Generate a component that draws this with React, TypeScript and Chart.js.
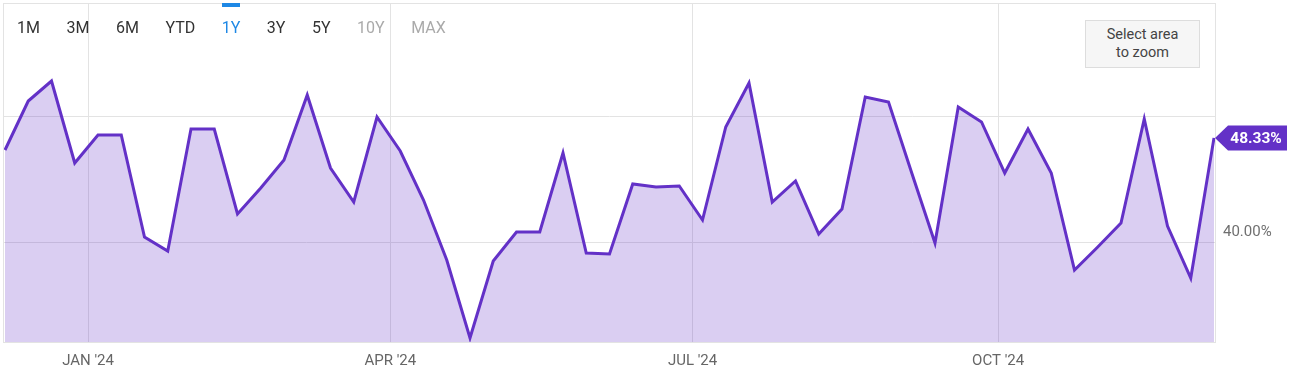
import React, { useEffect, useRef } from 'react';
import { Chart, registerables } from 'chart.js';

Chart.register(...registerables);

// ---- data ----
const dates = [
  '2023-12-07', '2023-12-14', '2023-12-21', '2023-12-28', '2024-01-04', '2024-01-11', '2024-01-18',
  '2024-01-25', '2024-02-01', '2024-02-08', '2024-02-15', '2024-02-22', '2024-02-29', '2024-03-07',
  '2024-03-14', '2024-03-21', '2024-03-28', '2024-04-04', '2024-04-11', '2024-04-18', '2024-04-25',
  '2024-05-02', '2024-05-09', '2024-05-16', '2024-05-23', '2024-05-30', '2024-06-06', '2024-06-13',
  '2024-06-20', '2024-06-27', '2024-07-04', '2024-07-11', '2024-07-18', '2024-07-25', '2024-08-01',
  '2024-08-08', '2024-08-15', '2024-08-22', '2024-08-29', '2024-09-05', '2024-09-12', '2024-09-19',
  '2024-09-26', '2024-10-03', '2024-10-10', '2024-10-17', '2024-10-24', '2024-10-31', '2024-11-07',
  '2024-11-14', '2024-11-21', '2024-11-28', '2024-12-05',
];
const values = [
  47.36, 51.28, 52.88, 46.32, 48.56, 48.56, 40.4, 39.28, 49.04, 49.04, 42.24, 44.32, 46.56, 51.76,
  45.92, 43.2, 50.0, 47.28, 43.36, 38.56, 32.32, 38.48, 40.8, 40.8, 47.12, 39.12, 39.04, 44.64,
  44.4, 44.48, 41.76, 49.2, 52.72, 43.2, 44.88, 40.64, 42.64, 51.6, 51.2, 45.52, 39.92, 50.8,
  49.6, 45.52, 49.04, 45.52, 37.76, 39.6, 41.52, 49.84, 41.28, 37.12, 48.33,
];
const xTickDates = ['2024-01-01', '2024-04-01', '2024-07-01', '2024-10-01'];
const xTickLabels = ["JAN '24", "APR '24", "JUL '24", "OCT '24"];
const yTickValues = [40, 50];
const yTickLabels = ['40.00%', ''];
const rangeButtons = ['1M', '3M', '6M', 'YTD', '1Y', '3Y', '5Y', '10Y', 'MAX'];
const activeRange = '1Y';
const disabledRanges = ['10Y', 'MAX'];
const zoomHint = ['Select area', 'to zoom'];

const toDay = (s: string) => {
  const [y, m, d] = s.split('-').map(Number);
  return Date.UTC(y, m - 1, d) / 86400000;
};

const LINE = '#6331c7';
const FILL = 'rgba(99,49,199,0.24)';

export default function App() {
  const canvasRef = useRef<HTMLCanvasElement | null>(null);

  useEffect(() => {
    document.body.style.margin = '0';
    const canvas = canvasRef.current;
    if (!canvas) return;

    const points = dates.map((d, i) => ({ x: toDay(d), y: values[i] }));
    const xTicks = xTickDates.map(toDay);

    const frame = {
      id: 'frame',
      beforeDatasetsDraw(chart: any) {
        const { ctx, chartArea: a } = chart;
        ctx.save();
        ctx.strokeStyle = '#e3e3e3';
        ctx.lineWidth = 1;
        ctx.strokeRect(a.left - 0.5, a.top - 0.5, a.right - a.left + 1, a.bottom - a.top + 1);
        ctx.restore();
      },
    };

    const lastLabel = {
      id: 'lastLabel',
      afterDraw(chart: any) {
        const { ctx, chartArea: a } = chart;
        const last = values[values.length - 1];
        const y = chart.scales.y.getPixelForValue(last);
        const tip = a.right;
        const base = tip + 13;
        const right = tip + 72;
        const h = 25;
        ctx.save();
        ctx.fillStyle = LINE;
        ctx.beginPath();
        ctx.moveTo(tip, y);
        ctx.lineTo(base, y - h / 2);
        ctx.lineTo(right, y - h / 2);
        ctx.lineTo(right, y + h / 2);
        ctx.lineTo(base, y + h / 2);
        ctx.closePath();
        ctx.fill();
        ctx.fillStyle = '#ffffff';
        ctx.font = 'bold 15.5px Roboto';
        ctx.textAlign = 'center';
        ctx.textBaseline = 'middle';
        ctx.fillText(last.toFixed(2) + '%', tip + 41, y + 1);
        ctx.restore();
      },
    };

    const chart = new Chart(canvas, {
      type: 'line',
      data: {
        datasets: [
          {
            data: points,
            borderColor: LINE,
            backgroundColor: FILL,
            borderWidth: 3,
            fill: 'start',
            tension: 0,
            pointRadius: 0,
            borderJoinStyle: 'miter',
          },
        ],
      },
      options: {
        animation: false,
        responsive: true,
        maintainAspectRatio: false,
        layout: { padding: { left: 4, top: 4, right: 0, bottom: 0 } },
        plugins: { legend: { display: false }, tooltip: { enabled: false } },
        scales: {
          x: {
            type: 'linear',
            min: points[0].x - 0.3,
            max: points[points.length - 1].x + 0.3,
            afterBuildTicks: (scale: any) => {
              scale.ticks = xTicks.map((v) => ({ value: v }));
            },
            afterFit: (scale: any) => {
              scale.height = 44;
              scale.paddingLeft = 0;
              scale.paddingRight = 0;
            },
            grid: { color: '#e3e3e3', drawTicks: false, lineWidth: 1 },
            border: { display: false },
            ticks: {
              autoSkip: false,
              maxRotation: 0,
              padding: 10,
              color: '#666666',
              font: { family: 'Roboto', size: 15 },
              callback: (_v: any, i: number) => xTickLabels[i],
            },
          },
          y: {
            position: 'right',
            min: 32,
            max: 59.04,
            afterBuildTicks: (scale: any) => {
              scale.ticks = yTickValues.map((v) => ({ value: v }));
            },
            afterFit: (scale: any) => {
              scale.width = 77;
              scale.paddingTop = 0;
              scale.paddingBottom = 0;
            },
            grid: { color: '#e3e3e3', drawTicks: false, lineWidth: 1 },
            border: { display: false },
            ticks: {
              padding: 8,
              labelOffset: -10,
              color: '#6f6f6f',
              font: { family: 'Roboto', size: 15 },
              callback: (_v: any, i: number) => yTickLabels[i],
            },
          },
        },
      },
      plugins: [frame, lastLabel],
    } as any);

    return () => chart.destroy();
  }, []);

  return (
    <div style={{ position: 'relative', width: 1292, height: 386, fontFamily: 'Roboto' }}>
      <canvas ref={canvasRef} />
      <div
        style={{
          position: 'absolute',
          left: 17,
          top: 20,
          display: 'flex',
          gap: 26.5,
          fontSize: 16,
          lineHeight: '16px',
        }}
      >
        {rangeButtons.map((b) => (
          <span
            key={b}
            style={{
              position: 'relative',
              color: b === activeRange ? '#1e88e5' : disabledRanges.includes(b) ? '#aaaaaa' : '#333333',
            }}
          >
            {b}
            {b === activeRange && (
              <span
                style={{
                  position: 'absolute',
                  left: 0,
                  right: 0,
                  top: -17,
                  height: 4,
                  background: '#1e88e5',
                }}
              />
            )}
          </span>
        ))}
      </div>
      <div
        style={{
          position: 'absolute',
          left: 1085,
          top: 20,
          width: 113,
          height: 46,
          background: '#f6f6f6',
          border: '1px solid #dddddd',
          color: '#444444',
          fontSize: 14.5,
          lineHeight: '18px',
          textAlign: 'center',
          display: 'flex',
          flexDirection: 'column',
          justifyContent: 'center',
        }}
      >
        {zoomHint.map((t) => (
          <div key={t}>{t}</div>
        ))}
      </div>
    </div>
  );
}
